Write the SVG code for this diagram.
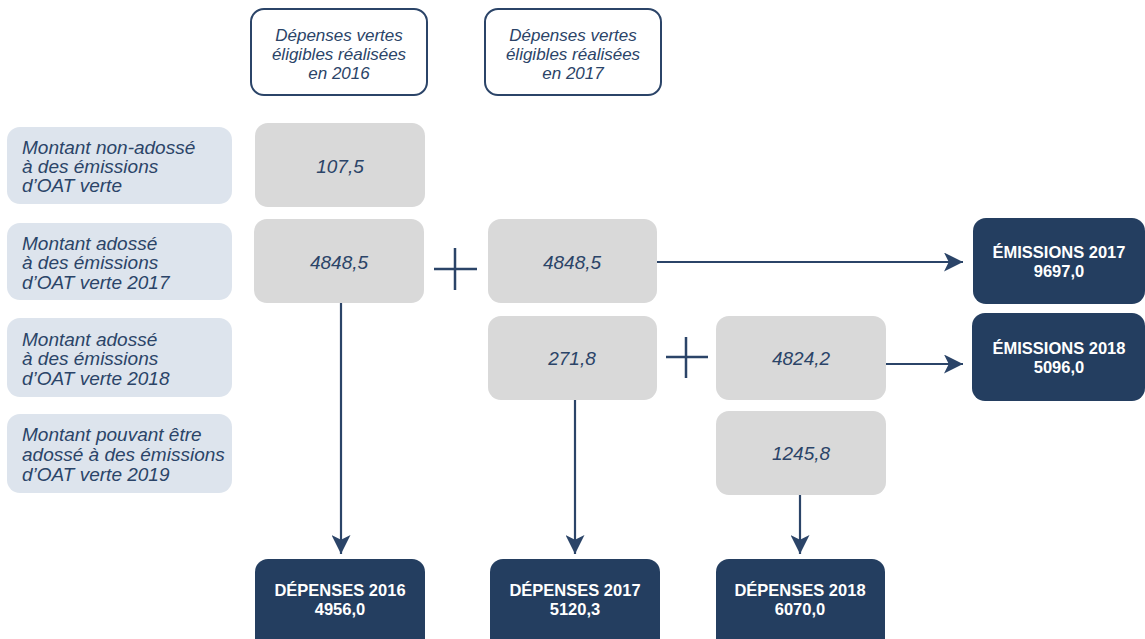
<svg xmlns="http://www.w3.org/2000/svg" width="1145" height="639" viewBox="0 0 1145 639">
<style>
  .hdr{fill:#ffffff;stroke:#2b4468;stroke-width:2}
  .lbl{fill:#dde4ed}
  .gry{fill:#d9d9d9}
  .dk{fill:#243e60}
  .it{font-family:"Liberation Sans",Arial,sans-serif;font-style:italic;fill:#2b4468}
  .t19{font-size:19px}
  .t17{font-size:17px}
  .bd{font-family:"Liberation Sans",Arial,sans-serif;font-weight:bold;font-size:16.5px;fill:#ffffff}
  .c{text-anchor:middle}
  .ln{stroke:#2b4468;stroke-width:2.2;fill:none}
  .pl{stroke:#2b4468;stroke-width:2.5;fill:none}
</style>
<defs>
  <marker id="ah" viewBox="0 0 20 20" refX="20" refY="10" markerWidth="20" markerHeight="19" markerUnits="userSpaceOnUse" orient="auto">
    <path d="M0,0 L20,10 L0,20 L5,10 z" fill="#2b4468"/>
  </marker>
</defs>

<g id="hdr2016">
  <rect class="hdr" x="251" y="9" width="176" height="86" rx="13"/>
  <text class="it t17 c" x="339" y="41">Dépenses vertes</text>
  <text class="it t17 c" x="339" y="60">éligibles réalisées</text>
  <text class="it t17 c" x="339" y="79">en 2016</text>
</g>
<g id="hdr2017">
  <rect class="hdr" x="485" y="9" width="176" height="86" rx="13"/>
  <text class="it t17 c" x="573" y="41">Dépenses vertes</text>
  <text class="it t17 c" x="573" y="60">éligibles réalisées</text>
  <text class="it t17 c" x="573" y="79">en 2017</text>
</g>

<g id="lbl1">
  <rect class="lbl" x="7" y="127" width="225" height="77" rx="13"/>
  <text class="it t19" x="22" y="154">Montant non-adossé</text>
  <text class="it t19" x="22" y="173">à des émissions</text>
  <text class="it t19" x="22" y="192">d’OAT verte</text>
</g>
<g id="lbl2">
  <rect class="lbl" x="7" y="223" width="225" height="77" rx="13"/>
  <text class="it t19" x="22" y="250">Montant adossé</text>
  <text class="it t19" x="22" y="269">à des émissions</text>
  <text class="it t19" x="22" y="289">d’OAT verte 2017</text>
</g>
<g id="lbl3">
  <rect class="lbl" x="7" y="318" width="225" height="79" rx="13"/>
  <text class="it t19" x="22" y="346">Montant adossé</text>
  <text class="it t19" x="22" y="365">à des émissions</text>
  <text class="it t19" x="22" y="385">d’OAT verte 2018</text>
</g>
<g id="lbl4">
  <rect class="lbl" x="7" y="414" width="225" height="79" rx="13"/>
  <text class="it t19" x="22" y="441">Montant pouvant être</text>
  <text class="it t19" x="22" y="461">adossé à des émissions</text>
  <text class="it t19" x="22" y="481">d’OAT verte 2019</text>
</g>

<g id="g1075">
  <rect class="gry" x="255" y="123" width="170" height="84" rx="13"/>
  <text class="it t19 c" x="340" y="173">107,5</text>
</g>
<g id="g4848a">
  <rect class="gry" x="254" y="219" width="170" height="84" rx="13"/>
  <text class="it t19 c" x="339" y="269">4848,5</text>
</g>
<g id="g4848b">
  <rect class="gry" x="488" y="219" width="169" height="84" rx="13"/>
  <text class="it t19 c" x="572" y="269">4848,5</text>
</g>
<g id="g2718">
  <rect class="gry" x="488" y="316" width="169" height="84" rx="13"/>
  <text class="it t19 c" x="572" y="365">271,8</text>
</g>
<g id="g4824">
  <rect class="gry" x="716" y="316" width="170" height="84" rx="13"/>
  <text class="it t19 c" x="801" y="365">4824,2</text>
</g>
<g id="g1245">
  <rect class="gry" x="716" y="411" width="170" height="84" rx="13"/>
  <text class="it t19 c" x="801" y="460">1245,8</text>
</g>

<g id="em2017">
  <rect class="dk" x="973" y="218" width="172" height="86" rx="13"/>
  <text class="bd c" x="1059" y="258">ÉMISSIONS 2017</text>
  <text class="bd c" x="1059" y="277">9697,0</text>
</g>
<g id="em2018">
  <rect class="dk" x="972" y="313" width="173" height="88" rx="13"/>
  <text class="bd c" x="1059" y="354">ÉMISSIONS 2018</text>
  <text class="bd c" x="1059" y="373">5096,0</text>
</g>

<g id="dep2016">
  <rect class="dk" x="255" y="559" width="170" height="95" rx="13"/>
  <text class="bd c" x="340" y="596">DÉPENSES 2016</text>
  <text class="bd c" x="340" y="615">4956,0</text>
</g>
<g id="dep2017">
  <rect class="dk" x="490" y="559" width="170" height="95" rx="13"/>
  <text class="bd c" x="575" y="596">DÉPENSES 2017</text>
  <text class="bd c" x="575" y="615">5120,3</text>
</g>
<g id="dep2018">
  <rect class="dk" x="716" y="559" width="169" height="95" rx="13"/>
  <text class="bd c" x="800" y="596">DÉPENSES 2018</text>
  <text class="bd c" x="800" y="615">6070,0</text>
</g>

<g id="connectors">
  <path class="pl" d="M434,269 H477 M455,248 V290"/>
  <path class="pl" d="M666,357 H708 M686,337 V378"/>
  <line class="ln" x1="657" y1="262" x2="963" y2="262" marker-end="url(#ah)"/>
  <line class="ln" x1="886" y1="364" x2="963" y2="364" marker-end="url(#ah)"/>
  <line class="ln" x1="341" y1="303" x2="341" y2="554" marker-end="url(#ah)"/>
  <line class="ln" x1="575" y1="400" x2="575" y2="554" marker-end="url(#ah)"/>
  <line class="ln" x1="800" y1="495" x2="800" y2="554" marker-end="url(#ah)"/>
</g>
</svg>
